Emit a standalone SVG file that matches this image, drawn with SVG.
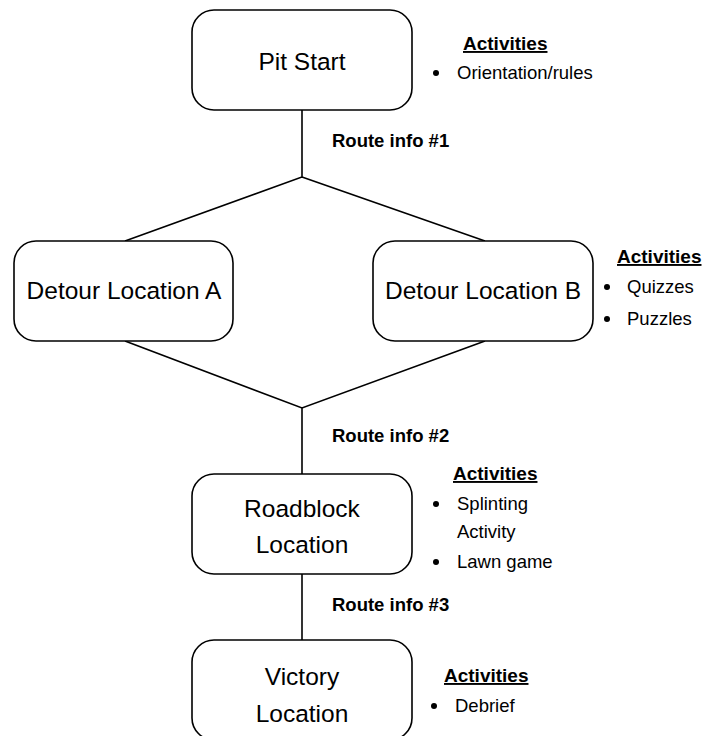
<svg xmlns="http://www.w3.org/2000/svg" width="704" height="736" viewBox="0 0 704 736">
<style>
.box{fill:#fff;stroke:#000;stroke-width:1.6}
.ln{fill:none;stroke:#000;stroke-width:1.6}
.lbl{font-family:"Liberation Sans",Arial,sans-serif;font-size:24.5px;fill:#000;text-anchor:middle}
.rt{font-family:"Liberation Sans",Arial,sans-serif;font-size:18.5px;font-weight:bold;fill:#000}
.hd{font-family:"Liberation Sans",Arial,sans-serif;font-size:19px;font-weight:bold;fill:#000;text-decoration:underline}
.it{font-family:"Liberation Sans",Arial,sans-serif;font-size:18.5px;fill:#000}
.dot{fill:#000}
</style>
<rect width="704" height="736" fill="#fff"/>
<g id="connectors">
<path class="ln" d="M302 110 V177 L125 241 M302 177 L485 241"/>
<path class="ln" d="M125 341 L302 408 L485 341 M302 408 V474"/>
<path class="ln" d="M302 574 V640"/>
</g>
<g id="pit-start">
<rect class="box" x="192" y="10" width="220" height="100" rx="22"/>
<text class="lbl" x="302" y="70">Pit Start</text>
</g>
<g id="detour-a">
<rect class="box" x="14" y="241" width="219" height="100" rx="22"/>
<text class="lbl" x="124" y="299">Detour Location A</text>
</g>
<g id="detour-b">
<rect class="box" x="373" y="241" width="220" height="100" rx="22"/>
<text class="lbl" x="483" y="299">Detour Location B</text>
</g>
<g id="roadblock">
<rect class="box" x="192" y="474" width="220" height="100" rx="22"/>
<text class="lbl" x="302" y="517">Roadblock</text>
<text class="lbl" x="302" y="553">Location</text>
</g>
<g id="victory">
<rect class="box" x="192" y="640" width="220" height="100" rx="22"/>
<text class="lbl" x="302" y="685">Victory</text>
<text class="lbl" x="302" y="722">Location</text>
</g>
<g id="route-labels">
<text class="rt" x="332" y="147">Route info #1</text>
<text class="rt" x="332" y="442">Route info #2</text>
<text class="rt" x="332" y="611">Route info #3</text>
</g>
<g id="activities-pit">
<text class="hd" x="463" y="50">Activities</text>
<circle class="dot" cx="436" cy="73" r="3"/>
<text class="it" x="457" y="79">Orientation/rules</text>
</g>
<g id="activities-b">
<text class="hd" x="617" y="263">Activities</text>
<circle class="dot" cx="607" cy="287" r="3"/>
<text class="it" x="627" y="293">Quizzes</text>
<circle class="dot" cx="607" cy="319" r="3"/>
<text class="it" x="627" y="325">Puzzles</text>
</g>
<g id="activities-roadblock">
<text class="hd" x="453" y="480">Activities</text>
<circle class="dot" cx="436" cy="504" r="3"/>
<text class="it" x="457" y="510">Splinting</text>
<text class="it" x="457" y="538">Activity</text>
<circle class="dot" cx="436" cy="562" r="3"/>
<text class="it" x="457" y="568">Lawn game</text>
</g>
<g id="activities-victory">
<text class="hd" x="444" y="682">Activities</text>
<circle class="dot" cx="434" cy="706" r="3"/>
<text class="it" x="455" y="712">Debrief</text>
</g>
</svg>
